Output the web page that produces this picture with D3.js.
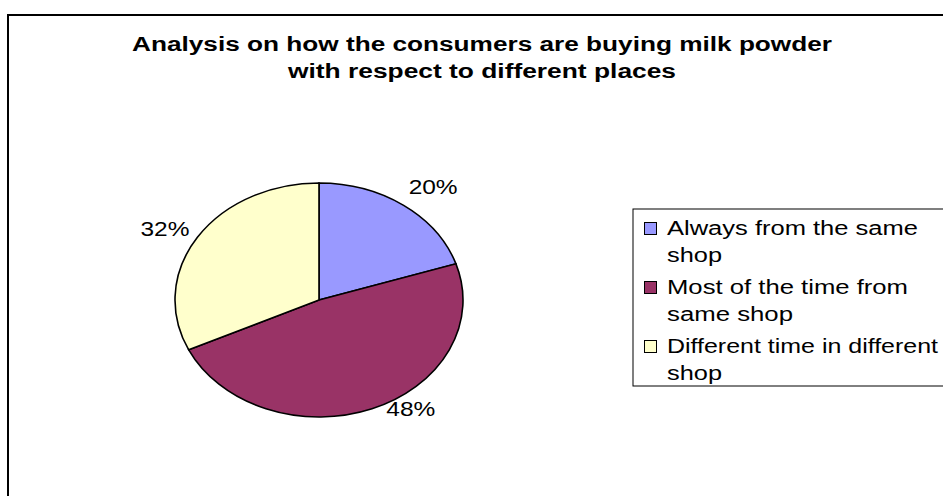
<!DOCTYPE html>
<html>
<head>
<meta charset="utf-8">
<script src="https://cdn.jsdelivr.net/npm/d3@7"></script>
<style>
  html, body { margin: 0; padding: 0; background: #fff; }
  svg { display: block; font-family: "Liberation Sans", Arial, sans-serif; }
</style>
</head>
<body>
<svg id="chart" width="943" height="496"></svg>
<script>
// Survey data: where consumers buy milk powder
const categories = [
  "Always from the same shop",
  "Most of the time from same shop",
  "Different time in different shop"
];
const legendLines = [
  ["Always from the same", "shop"],
  ["Most of the time from", "same shop"],
  ["Different time in different", "shop"]
];
const shares = [20, 48, 32];
const colors = ["#9999FF", "#993366", "#FFFFCC"];
const titleLines = [
  "Analysis on how the consumers are buying milk powder",
  "with respect to different places"
];

const svg = d3.select("#chart");

// stretch a text element horizontally to a given width
function fit(sel, w) {
  sel.attr("textLength", w).attr("lengthAdjust", "spacingAndGlyphs");
}

// chart frame (runs off the right and bottom edges)
svg.append("rect")
  .attr("x", 8).attr("y", 15)
  .attr("width", 1000).attr("height", 600)
  .attr("fill", "none").attr("stroke", "#000").attr("stroke-width", 2);

// title
const titleWidths = [700, 388];
titleLines.forEach((t, i) => {
  svg.append("text")
    .attr("x", 482).attr("y", 51 + i * 27)
    .attr("text-anchor", "middle")
    .attr("font-weight", "bold").attr("font-size", 20)
    .text(t)
    .call(fit, titleWidths[i]);
});

// elliptical pie
const cx = 319, cy = 300, rx = 144, ry = 117, R = 100;
const pie = d3.pie().sort(null).value(d => d);
const arcs = pie(shares);
const arc = d3.arc().innerRadius(0).outerRadius(R);

const pieG = svg.append("g")
  .attr("transform", `translate(${cx},${cy}) scale(${rx / R},${ry / R})`);
pieG.selectAll("path")
  .data(arcs)
  .join("path")
  .attr("d", arc)
  .attr("fill", (d, i) => colors[i])
  .attr("stroke", "#000")
  .attr("stroke-width", 1.6)
  .attr("vector-effect", "non-scaling-stroke");

// percentage labels placed just outside the slice's mid-angle
svg.append("g").selectAll("text")
  .data(arcs)
  .join("text")
  .each(function (d) {
    const a = (d.startAngle + d.endAngle) / 2;
    const s = Math.sin(a), c = Math.cos(a);
    const ax = cx + rx * s, ay = cy - ry * c;
    const side = s >= 0 ? 1 : -1;
    const dy = c > 0 ? 7 - 28 * c * c : 7;
    const dx = (side > 0 ? 5 : 8) + 10 * Math.max(-c, 0);
    d3.select(this)
      .attr("x", ax + side * dx)
      .attr("y", ay + dy)
      .attr("text-anchor", side > 0 ? "start" : "end");
  })
  .attr("font-size", 21)
  .attr("fill", "#000")
  .text(d => d.data + "%")
  .call(fit, 49);

// legend
const legend = svg.append("g");
legend.append("rect")
  .attr("x", 633).attr("y", 209)
  .attr("width", 400).attr("height", 177)
  .attr("fill", "#fff").attr("stroke", "#000").attr("stroke-width", 1);

const legendWidths = [[251, 55], [241, 126], [271, 55]];
categories.forEach((name, i) => {
  const base = 235 + i * 59;
  legend.append("rect")
    .attr("x", 644.5).attr("y", base - 12.5)
    .attr("width", 12).attr("height", 12)
    .attr("fill", colors[i]).attr("stroke", "#000").attr("stroke-width", 1);
  legendLines[i].forEach((line, j) => {
    legend.append("text")
      .attr("x", 667).attr("y", base + j * 27)
      .attr("font-size", 20)
      .text(line)
      .call(fit, legendWidths[i][j]);
  });
});
</script>
</body>
</html>
